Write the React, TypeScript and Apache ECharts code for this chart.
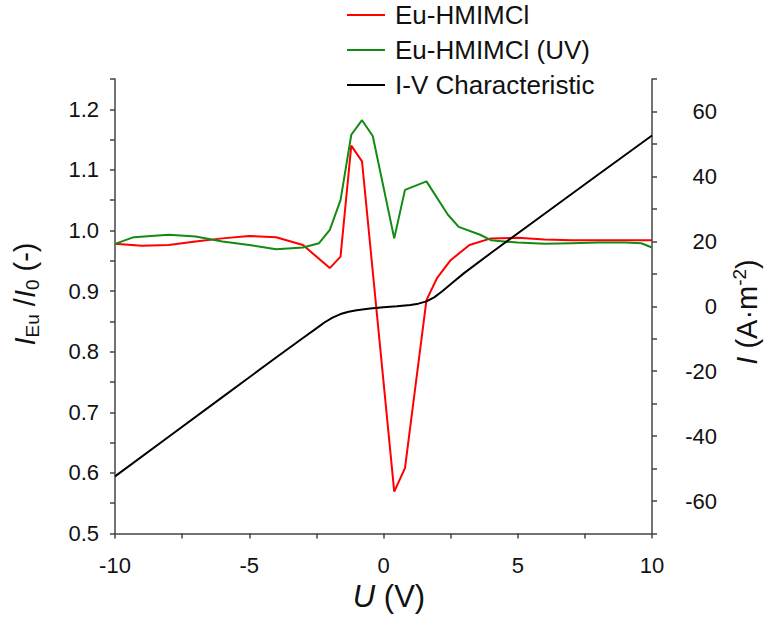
import React, { useEffect, useRef } from "react";
import * as echarts from "echarts";

const FONT = "'Liberation Sans', Arial, sans-serif";

// Relative Eu emission intensity vs. applied voltage (left axis)
const redU = [-10, -9, -8, -7, -6, -5, -4, -3, -2, -1.6, -1.2, -0.8, 0.4, 0.8, 1.6, 2.0, 2.5, 3.2, 4.0, 5, 6, 7, 8, 9, 10];
const redI = [0.978, 0.975, 0.976, 0.982, 0.987, 0.991, 0.989, 0.976, 0.938, 0.957, 1.14, 1.114, 0.569, 0.608, 0.885, 0.922, 0.951, 0.976, 0.987, 0.988, 0.985, 0.984, 0.984, 0.984, 0.984];

const greenU = [-10, -9.3, -8, -7, -6, -5, -4, -3, -2.4, -2.0, -1.6, -1.2, -0.8, -0.4, 0.4, 0.8, 1.6, 2.4, 2.8, 3.6, 4.0, 5, 6, 7, 8, 9, 9.6, 10];
const greenI = [0.978, 0.989, 0.993, 0.99, 0.982, 0.976, 0.969, 0.972, 0.979, 1.001, 1.05, 1.158, 1.182, 1.156, 0.987, 1.067, 1.081, 1.026, 1.006, 0.993, 0.984, 0.98, 0.978, 0.979, 0.98, 0.98, 0.979, 0.972];

// Current density (right axis)
const ivU = [-10, -8, -6, -4, -3, -2.5, -2.2, -1.9, -1.6, -1.3, -1, -0.5, 0, 0.5, 1, 1.3, 1.6, 1.9, 2.2, 2.6, 3, 4, 6, 8, 10];
const ivI = [-52.4, -40.2, -28, -15.8, -9.8, -6.8, -5.0, -3.5, -2.4, -1.7, -1.2, -0.7, -0.3, 0, 0.4, 0.8, 1.5, 2.8, 4.7, 7.5, 10.2, 16.4, 28.5, 40.6, 52.6];

const seriesNames = ["Eu-HMIMCl", "Eu-HMIMCl (UV)", "I-V Characteristic"];
const seriesColors = ["#ff0000", "#138a13", "#000000"];

const pairs = (xs: number[], ys: number[]) => xs.map((x, i) => [x, ys[i]]);

const AXIS_COLOR = "#444";
const TICK_FONT = 22;
const TITLE_FONT = 29;

export default function App() {
  const ref = useRef<HTMLDivElement>(null);

  useEffect(() => {
    if (!ref.current) return;
    const chart = echarts.init(ref.current, undefined, { renderer: "svg" });

    const axisCommon = {
      axisLine: { show: true, onZero: false, lineStyle: { color: AXIS_COLOR, width: 1.5 } },
      axisTick: { show: true, inside: false, length: 5, lineStyle: { color: AXIS_COLOR, width: 1.5 } },
      splitLine: { show: false },
    };

    const labelBase = { fontSize: TICK_FONT, color: "#111", fontFamily: FONT };

    chart.setOption({
      animation: false,
      backgroundColor: "#fff",
      textStyle: { fontFamily: FONT },
      grid: { left: 115, right: 115, top: 79, bottom: 83.5 },
      legend: {
        orient: "vertical",
        left: 347,
        top: 2,
        padding: 0,
        itemWidth: 38,
        itemHeight: 2,
        itemGap: 9,
        icon: "rect",
        data: seriesNames,
        textStyle: { fontSize: 26, color: "#111", fontFamily: FONT, padding: [0, 0, 0, 5] },
      },
      xAxis: {
        type: "value",
        min: -10,
        max: 10,
        interval: 2.5,
        ...axisCommon,
        axisLabel: {
          ...labelBase,
          margin: 21,
          formatter: (v: number) => (Math.abs(v % 5) < 1e-9 ? String(v) : ""),
        },
      },
      yAxis: [
        {
          type: "value",
          position: "left",
          min: 0.5,
          max: 1.25,
          interval: 0.05,
          ...axisCommon,
          axisLabel: {
            ...labelBase,
            margin: 16,
            formatter: (v: number) => {
              const r = Math.round(v * 100);
              return r % 10 === 0 ? (r / 100).toFixed(1) : "";
            },
          },
        },
        {
          type: "value",
          position: "right",
          min: -70,
          max: 70,
          interval: 10,
          ...axisCommon,
          axisLabel: {
            ...labelBase,
            margin: 65,
            align: "right",
            formatter: (v: number) => (Math.round(v) % 20 === 0 ? String(Math.round(v)) : ""),
          },
        },
      ],
      series: [
        {
          name: seriesNames[0],
          type: "line",
          yAxisIndex: 0,
          data: pairs(redU, redI),
          symbol: "none",
          color: seriesColors[0],
          lineStyle: { width: 2, color: seriesColors[0] },
        },
        {
          name: seriesNames[1],
          type: "line",
          yAxisIndex: 0,
          data: pairs(greenU, greenI),
          symbol: "none",
          color: seriesColors[1],
          lineStyle: { width: 2, color: seriesColors[1] },
        },
        {
          name: seriesNames[2],
          type: "line",
          yAxisIndex: 1,
          data: pairs(ivU, ivI),
          symbol: "none",
          color: seriesColors[2],
          lineStyle: { width: 2, color: seriesColors[2] },
        },
      ],
      graphic: [
        {
          type: "text",
          x: 25,
          y: 294,
          rotation: Math.PI / 2,
          style: {
            text: "{i|I}{sub|Eu}{n| /}{i|I}{sub|0}{n| (-)}",
            align: "center",
            verticalAlign: "middle",
            fill: "#111",
            fontFamily: FONT,
            fontSize: TITLE_FONT,
            rich: {
              i: { fontStyle: "italic", fontSize: TITLE_FONT, fontFamily: FONT, fill: "#111" },
              n: { fontSize: TITLE_FONT, fontFamily: FONT, fill: "#111" },
              sub: { fontSize: 19, fontFamily: FONT, fill: "#111", padding: [15, 0, 0, 0] },
            },
          },
        },
        {
          type: "text",
          x: 747,
          y: 312,
          rotation: Math.PI / 2,
          style: {
            text: "{i|I}{n| (A·m}{sup|-2}{n|)}",
            align: "center",
            verticalAlign: "middle",
            fill: "#111",
            fontFamily: FONT,
            fontSize: TITLE_FONT,
            rich: {
              i: { fontStyle: "italic", fontSize: TITLE_FONT, fontFamily: FONT, fill: "#111" },
              n: { fontSize: TITLE_FONT, fontFamily: FONT, fill: "#111" },
              sup: { fontSize: 19, fontFamily: FONT, fill: "#111", padding: [0, 0, 15, 0] },
            },
          },
        },
        {
          type: "text",
          x: 389,
          y: 596,
          style: {
            text: "{i|U}{n| (V)}",
            align: "center",
            verticalAlign: "middle",
            fill: "#111",
            fontFamily: FONT,
            fontSize: 31,
            rich: {
              i: { fontStyle: "italic", fontSize: 31, fontFamily: FONT, fill: "#111" },
              n: { fontSize: 31, fontFamily: FONT, fill: "#111" },
            },
          },
        },
      ],
    });

    return () => chart.dispose();
  }, []);

  return (
    <div
      ref={ref}
      style={{ position: "fixed", left: 0, top: 0, width: 767, height: 617, background: "#fff" }}
    />
  );
}
